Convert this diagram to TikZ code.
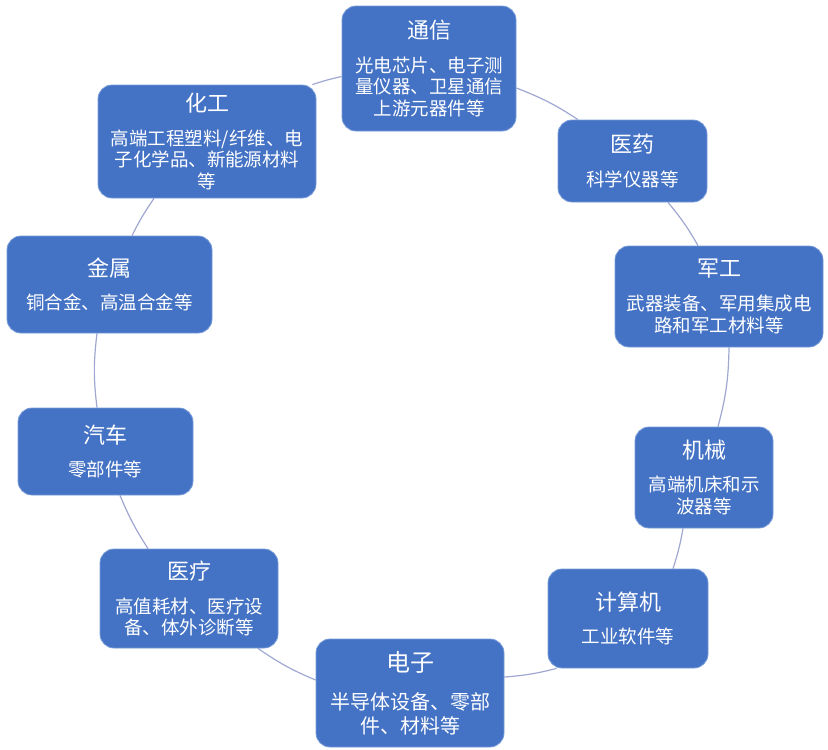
\documentclass[tikz,border=0pt]{standalone}
\usepackage{fontspec}
\newfontfamily\cjk{Noto Sans CJK SC}
\definecolor{boxblue}{RGB}{68,114,196}
\definecolor{edgeblue}{RGB}{120,156,216}
\definecolor{linkc}{RGB}{160,168,210}
\newcommand\ttl[1]{{\fontsize{22pt}{26pt}\selectfont #1\par}\vspace{12pt}}
\newcommand\ttlbig[1]{{\fontsize{24pt}{28pt}\selectfont #1\par}\vspace{15pt}}
\pgfdeclarelayer{bg}
\pgfsetlayers{bg,main}
\tikzset{
  box/.style n args={2}{rectangle, rounded corners=14pt, fill=boxblue, draw=edgeblue,
    line width=0.8pt, text=white, align=center, inner sep=0pt,
    minimum width=#1pt, minimum height=#2pt, text width=#1pt,
    font=\cjk\fontsize{18.5pt}{21.7pt}\selectfont},
  link/.style={draw=linkc, line width=1.2pt},
}
\begin{document}
\begin{tikzpicture}[x=1pt,y=-1pt]
\useasboundingbox (0,0) rectangle (828,750);
\node[box={174}{125}] (tx) at (429,68.5) {\ttl{通信}光电芯片、电子测\\量仪器、卫星通信\\上游元器件等};
\node[box={149}{82}] (yy) at (632.5,161) {\ttl{医药}科学仪器等};
\node[box={208}{101}] (jg) at (719,296.5) {\ttl{军工}武器装备、军用集成电\\路和军工材料等};
\node[box={138}{101}] (jx) at (704,477.5) {\ttl{机械}高端机床和示\\波器等};
\node[box={160}{99}] (js) at (628,618.5) {\ttl{计算机}工业软件等};
\node[box={188}{108}, font=\cjk\fontsize{20pt}{23.3pt}\selectfont] (dz) at (410,693) {\ttlbig{电子}半导体设备、零部\\件、材料等};
\node[box={178}{99}] (yl) at (189,598.5) {\ttl{医疗}高值耗材、医疗设\\备、体外诊断等};
\node[box={175}{87}] (qc) at (105.5,451.5) {\ttl{汽车}零部件等};
\node[box={205}{97}] (jsh) at (109.5,284.5) {\ttl{金属}铜合金、高温合金等};
\node[box={218}{113}] (hg) at (207,141.5) {\ttl{化工}高端工程塑料/纤维、电\\子化学品、新能源材料\\等};
\begin{pgfonlayer}{bg}
\fill[white] (0,0) rectangle (828,750);
\draw[link] ([xshift=-4pt]hg.north east) to[bend left=3] ([yshift=-8pt]tx.west);
\draw[link] ([yshift=-19.5pt]tx.east) to[bend left=6] ([xshift=-54.5pt]yy.north);
\draw[link] ([xshift=35.5pt]yy.south) to[bend left=5] ([xshift=-21pt]jg.north);
\draw[link] ([xshift=10pt]jg.south) to[bend left=7] ([xshift=14pt]jx.north);
\draw[link] ([xshift=-21pt]jx.south) to[bend left=4] ([xshift=45pt]js.north);
\draw[link] ([xshift=9pt]js.south west) to[bend left=5] ([yshift=16pt]dz.east);
\draw[link] ([yshift=13pt]dz.west) to[bend left=6] ([xshift=69pt]yl.south);
\draw[link] ([xshift=-41pt]yl.north) to[bend left=5] ([xshift=14.5pt]qc.south);
\draw[link] ([xshift=-8.5pt]qc.north) to[bend left=7] ([xshift=-12.5pt]jsh.south);
\draw[link] ([xshift=22.5pt]jsh.north) to[bend left=4] ([xshift=-53pt]hg.south);
\end{pgfonlayer}
\end{tikzpicture}
\end{document}
